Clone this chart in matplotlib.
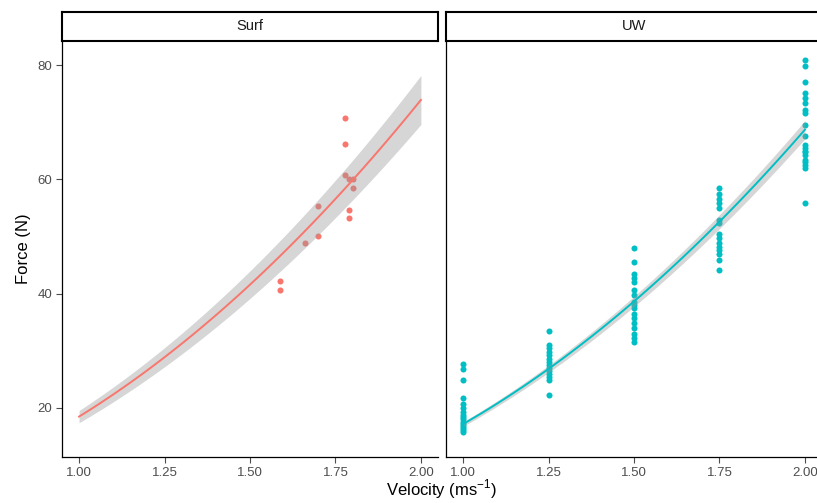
import numpy as np
import matplotlib.pyplot as plt

plt.rcParams['font.family'] = ['Liberation Sans Narrow', 'Liberation Sans', 'DejaVu Sans']

# Surf trials (velocity, force)
surf_v = [1.779, 1.779, 1.779, 1.791, 1.800, 1.800, 1.700, 1.789, 1.789, 1.700, 1.661, 1.589, 1.589]
surf_f = [70.8, 66.1, 60.7, 60.0, 60.0, 58.5, 55.3, 54.7, 53.3, 50.1, 48.8, 42.2, 40.7]

# UW trials, grouped by towing velocity
uw_levels = [1.00, 1.25, 1.50, 1.75, 2.00]
uw_force = [
    [27.6, 26.8, 24.8, 21.8, 20.6, 19.9, 19.3, 18.8, 18.4, 18.0, 17.6, 17.2, 16.8, 16.5, 16.2, 15.8],
    [33.4, 31.0, 30.4, 29.8, 29.2, 28.6, 28.0, 27.5, 27.0, 26.5, 26.0, 25.4, 24.8, 22.2],
    [47.9, 45.6, 43.4, 42.7, 42.1, 40.6, 39.7, 38.6, 38.0, 37.4, 36.5, 35.7, 34.8, 33.9, 33.0, 32.2, 31.5],
    [58.4, 57.5, 56.6, 55.8, 54.9, 52.9, 52.3, 50.5, 49.7, 48.8, 48.2, 47.6, 47.0, 45.9, 44.2],
    [80.9, 79.8, 77.1, 75.1, 74.2, 73.3, 72.2, 71.6, 69.5, 67.5, 66.0, 65.5, 65.0, 64.8, 64.3,
     63.4, 63.0, 62.5, 61.9, 55.9],
]

uw_v = np.concatenate([[v] * len(f) for v, f in zip(uw_levels, uw_force)])
uw_f = np.concatenate(uw_force)


def fit_sq(x, y):
    # y = k * x^2, least squares, 95% band
    x = np.asarray(x, float)
    y = np.asarray(y, float)
    sx4 = np.sum(x ** 4)
    k = np.sum(x ** 2 * y) / sx4
    df = len(x) - 1
    s = np.sqrt(np.sum((y - k * x ** 2) ** 2) / df)
    se = s / np.sqrt(sx4)
    z = 1.96
    t = z + (z ** 3 + z) / (4 * df) + (5 * z ** 5 + 16 * z ** 3 + 3 * z) / (96 * df ** 2)
    xx = np.linspace(1, 2, 80)
    yy = k * xx ** 2
    return xx, yy, yy - t * se * xx ** 2, yy + t * se * xx ** 2


fig = plt.figure(figsize=(8.17, 5.03), dpi=100)
W, H = 817, 503
bot, top = 457, 41

panels = [("Surf", surf_v, surf_f, "#F8766D", 62), ("UW", uw_v, uw_f, "#00BFC4", 446)]
axes = []
for i, (name, x, y, col, left) in enumerate(panels):
    ax = fig.add_axes([left / W, (H - bot) / H, 376 / W, (bot - top) / H])
    ax.scatter(x, y, s=19, color=col, linewidths=0, zorder=2)
    xx, yy, lo, hi = fit_sq(x, y)
    ax.fill_between(xx, lo, hi, color="#999999", alpha=0.4, linewidth=0, zorder=3)
    ax.plot(xx, yy, color=col, lw=1.4, zorder=4)
    ax.set_xlim(0.95, 2.05)
    ax.set_ylim(11.4, 84.2)
    ax.set_xticks([1.00, 1.25, 1.50, 1.75, 2.00])
    ax.set_xticklabels(["1.00", "1.25", "1.50", "1.75", "2.00"])
    ax.set_yticks([20, 40, 60, 80])
    for s in ["top", "right"]:
        ax.spines[s].set_visible(False)
    for s in ["left", "bottom"]:
        ax.spines[s].set_linewidth(0.9)
    ax.tick_params(colors="#4D4D4D", labelsize=9.5, length=4, width=0.8, pad=3)
    if i == 1:
        ax.tick_params(axis="y", left=False, labelleft=False)
    # strip
    sax = fig.add_axes([left / W, (H - top) / H, 376 / W, 29 / H])
    sax.set_xticks([])
    sax.set_yticks([])
    for s in sax.spines.values():
        s.set_linewidth(1.5)
    sax.text(0.5, 0.5, name, ha="center", va="center", fontsize=10.5, color="#1A1A1A",
             transform=sax.transAxes)
    axes.append(ax)

axes[0].set_ylabel("Force (N)", fontsize=12, labelpad=5)
fig.text(442 / W, 0.004, r"Velocity (ms$^{\mathregular{-1}}$)", ha="center", va="bottom", fontsize=12)

fig.savefig("out.png", dpi=100)
